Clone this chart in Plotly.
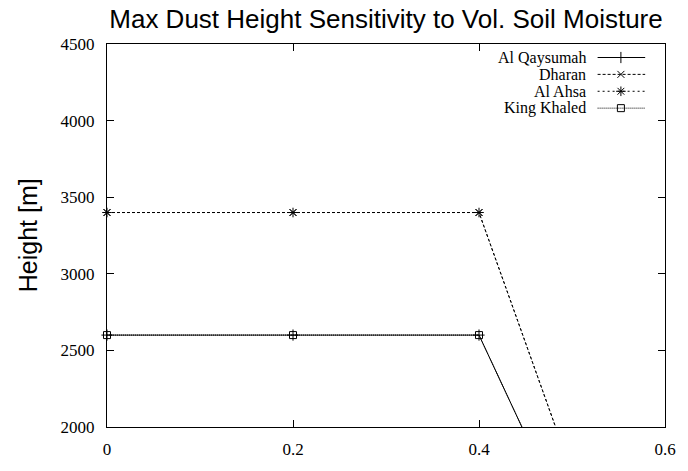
import plotly.graph_objects as go

# ---- data ----
soil_moisture = [0.0, 0.2, 0.4, 0.6]
series_names = ["Al Qaysumah", "Dharan", "Al Ahsa", "King Khaled"]
al_qaysumah = [2600, 2600, 2600, 0]
dharan = [3400, 3400, 3400, 0]
al_ahsa = [3400, 3400, 3400, 0]
king_khaled = [2600, 2600, 2600, 0]
x_tick_vals = [0, 0.2, 0.4, 0.6]
x_tick_text = ["0", "0.2", "0.4", "0.6"]
y_tick_vals = [2000, 2500, 3000, 3500, 4000, 4500]
y_tick_text = ["2000", "2500", "3000", "3500", "4000", "4500"]

series_values = [al_qaysumah, dharan, al_ahsa, king_khaled]
dashes = ["solid", "3px,2px", "2px,3px", "1px,1px"]
symbols = ["cross-thin-open", "x-thin-open", "asterisk-open", "square-open"]
sizes = [8, 7, 8, 7]

W, H = 688, 471
L, R, T, B = 107, 18, 44, 30

fig = go.Figure()
for name, vals, dash, sym, sz in zip(series_names, series_values, dashes, symbols, sizes):
    fig.add_trace(go.Scatter(
        x=soil_moisture, y=vals, name=name, mode="lines+markers",
        line=dict(color="black", width=1, dash=dash),
        marker=dict(symbol=sym, size=sz, color="black",
                    line=dict(color="black", width=1)),
        cliponaxis=False, showlegend=False,
    ))

# manual gnuplot-style key (text right-aligned, sample to its right) on an overlay axis
plot_w = W - L - R
plot_h = H - T - B
key_rows_px = [58, 75.5, 93, 110.5]
kx0 = (602 - L) / plot_w
kx1 = (650 - L) / plot_w
kxm = (625.5 - L) / plot_w
ktext = (591 - L) / plot_w
for name, dash, sym, sz, ypx in zip(series_names, dashes, symbols, sizes, key_rows_px):
    yk = (H - B - ypx) / plot_h
    fig.add_trace(go.Scatter(
        x=[kx0, kxm, kx1], y=[yk, yk, yk], mode="lines",
        line=dict(color="black", width=1, dash=dash),
        xaxis="x2", yaxis="y2", showlegend=False, hoverinfo="skip",
    ))
    fig.add_trace(go.Scatter(
        x=[kxm], y=[yk], mode="markers",
        marker=dict(symbol=sym, size=sz, color="black", line=dict(color="black", width=1)),
        xaxis="x2", yaxis="y2", showlegend=False, hoverinfo="skip",
    ))
    fig.add_annotation(x=ktext, y=yk, xref="x2", yref="y2", text=name,
                       showarrow=False, xanchor="right", yanchor="middle",
                       borderpad=0,
                       font=dict(family="Liberation Serif", size=16, color="black"))

axis_common = dict(
    showline=True, linecolor="black", linewidth=1, mirror="ticks",
    ticks="inside", ticklen=7, tickwidth=1, tickcolor="black",
    showgrid=False, zeroline=False,
    tickfont=dict(family="Liberation Serif", size=17, color="black"),
)

fig.update_layout(
    width=W, height=H,
    margin=dict(l=L, r=R, t=T, b=B, pad=0),
    paper_bgcolor="white", plot_bgcolor="white",
    title=dict(text="Max Dust Height Sensitivity to Vol. Soil Moisture",
               x=0.5, xref="paper", xanchor="center",
               y=1 - 18.5 / H, yref="container", yanchor="middle",
               font=dict(family="Liberation Sans", size=26, color="black")),
    xaxis=dict(range=[0, 0.6], tickvals=x_tick_vals, ticktext=x_tick_text,
               ticklabelstandoff=7, **axis_common),
    yaxis=dict(range=[2000, 4500], tickvals=y_tick_vals, ticktext=y_tick_text,
               ticklabelstandoff=8, **axis_common),
    xaxis2=dict(range=[0, 1], overlaying="x", visible=False, fixedrange=True),
    yaxis2=dict(range=[0, 1], overlaying="y", visible=False, fixedrange=True),
    showlegend=False,
)
fig.add_annotation(x=(27 - L) / plot_w, y=0.5, xref="paper", yref="paper",
                   text="Height [m]", textangle=-90, showarrow=False,
                   xanchor="center", yanchor="middle",
                   font=dict(family="Liberation Sans", size=25, color="black"))

fig.write_html(
    "out.html",
    config={"displayModeBar": False},
    post_script="document.body.style.margin='0px';document.body.style.overflow='hidden';",
)
